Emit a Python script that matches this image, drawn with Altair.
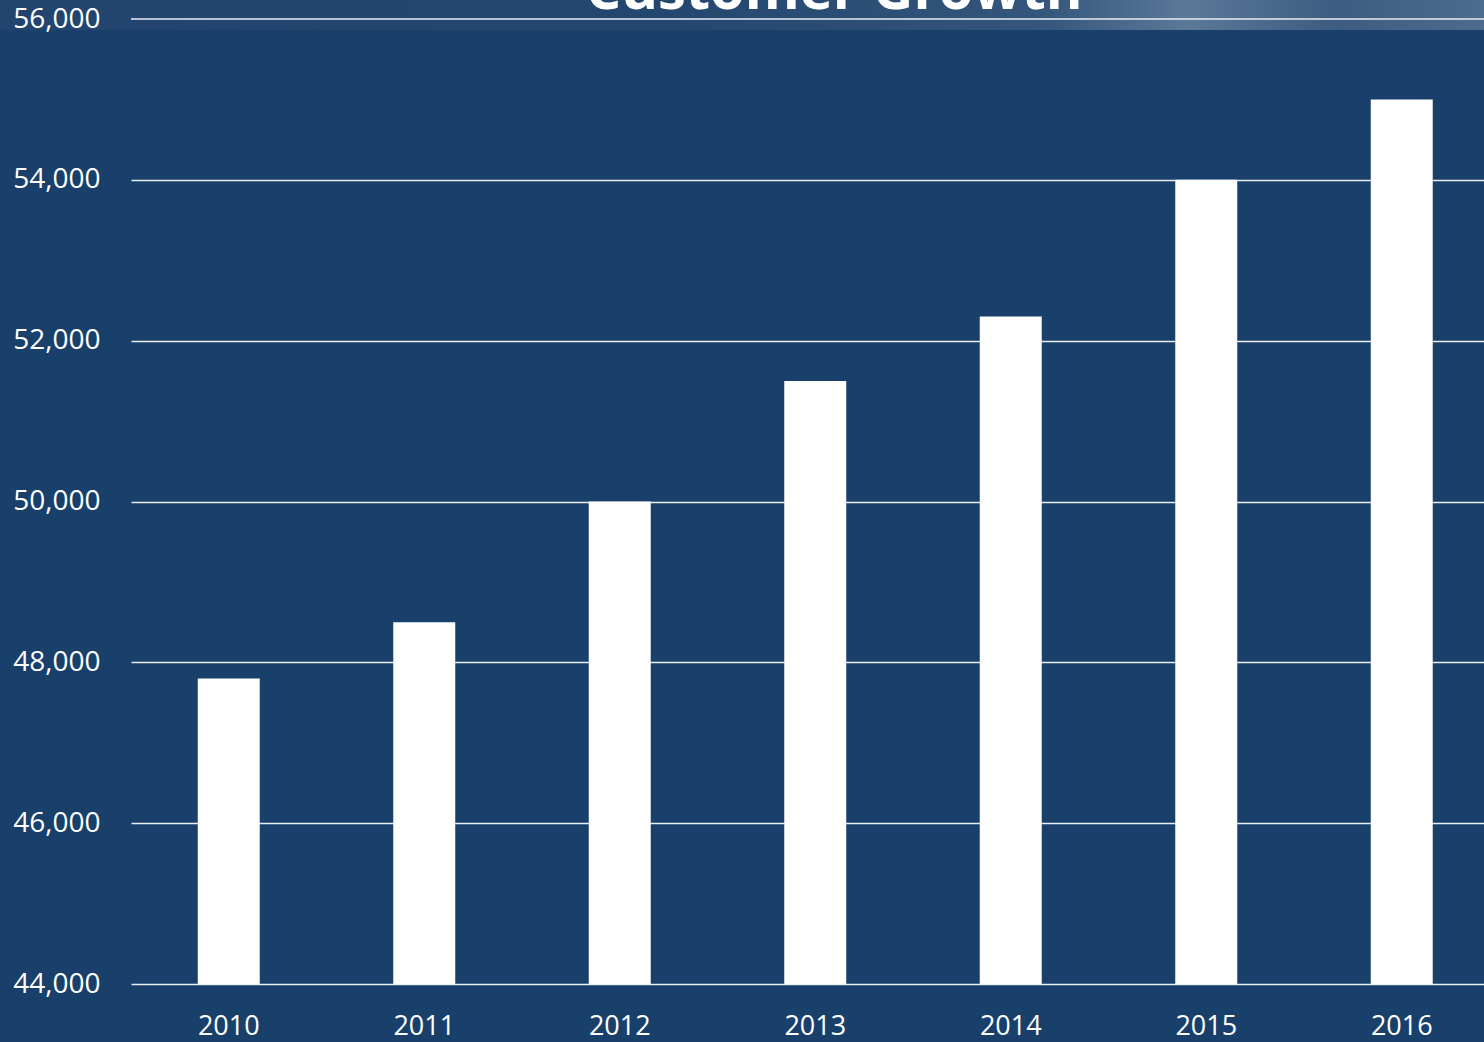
import altair as alt
import pandas as pd

years = ["2010", "2011", "2012", "2013", "2014", "2015", "2016"]
customers = [47800, 48500, 50000, 51500, 52300, 54000, 55000]
y_ticks = [44000, 46000, 48000, 50000, 52000, 54000, 56000]
y_min, y_max = 44000, 56000
title_text = ["Customer Growth"]

df = pd.DataFrame({"year": years, "customers": customers})

BG = "#19406b"
FONT = "Open Sans"
GRID = "#e9edf2"

yscale = alt.Scale(domain=[y_min, y_max], nice=False, zero=False)

band = alt.Chart(pd.DataFrame({"a": [0]})).mark_rect(
    fill=alt.Gradient(
        gradient="linear",
        x1=0, x2=1, y1=0, y2=0,
        stops=[
            alt.GradientStop(color="#22446f", offset=0),
            alt.GradientStop(color="#24476f", offset=0.45),
            alt.GradientStop(color="#34557c", offset=0.7),
            alt.GradientStop(color="#5b7898", offset=0.8),
            alt.GradientStop(color="#3d5c81", offset=0.9),
            alt.GradientStop(color="#4d6b8c", offset=1),
        ],
    )
).encode(
    x=alt.value(-131), x2=alt.value(1353),
    y=alt.value(-19), y2=alt.value(11),
)

title = alt.Chart(pd.DataFrame({"t": title_text})).mark_text(
    color="white", font=FONT, fontSize=56, fontWeight="bold",
    align="center", baseline="alphabetic",
).encode(
    text="t:N", x=alt.value(703), y=alt.value(-10),
)

top_rule = alt.Chart(pd.DataFrame({"a": [0]})).mark_rule(
    color=GRID, strokeWidth=1.6
).encode(
    y=alt.YDatum(
        y_max, type="quantitative", scale=yscale,
        axis=alt.Axis(
            orient="right", values=y_ticks, labels=False, ticks=False,
            domain=False, grid=True, gridColor=GRID, gridWidth=1.6,
            gridOpacity=1, title=None, zindex=0,
        ),
    ),
)

bars = alt.Chart(df).mark_bar(color="white").encode(
    x=alt.X(
        "year:N",
        sort=years,
        title=None,
        scale=alt.Scale(range=[0, 1368.5], paddingInner=0.683, paddingOuter=0.3415),
        axis=alt.Axis(
            labelAngle=0, labelFontSize=27, labelColor="white", labelFont=FONT,
            labelPadding=29, ticks=False, domain=False, grid=False,
        ),
    ),
    y=alt.Y(
        "customers:Q",
        title=None,
        scale=yscale,
        axis=alt.Axis(
            orient="left", values=y_ticks, format=",.0f", labelFontSize=28,
            labelColor="white", labelFont=FONT, labelPadding=31, ticks=False,
            domain=False, grid=False, zindex=1,
        ),
    ),
    y2=alt.datum(y_min),
)

chart = alt.layer(band, title, top_rule, bars).resolve_axis(y="independent").properties(
    width=1353,
    height=965,
    background=BG,
    padding={"left": 131, "top": 19, "right": 0, "bottom": 58},
    autosize=alt.AutoSizeParams(type="none"),
).configure_view(stroke=None, fill=BG)

chart.save("out.html", embed_options={"renderer": "svg", "actions": False})
